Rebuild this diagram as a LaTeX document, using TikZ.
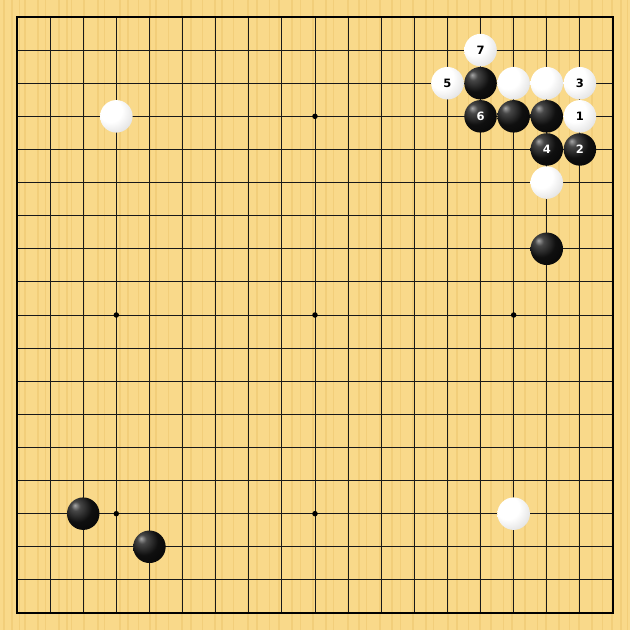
\documentclass[tikz,border=0pt]{standalone}
\usepackage{fontspec}
\setsansfont{DejaVu Sans}
\definecolor{boardcol}{RGB}{249,217,138}
\definecolor{stripecol}{RGB}{238,200,112}
\pgfdeclareradialshading{blackstone}{\pgfpoint{-13bp}{13bp}}{color(0bp)=(black!35); color(7bp)=(black!72); color(22bp)=(black!94); color(50bp)=(black); color(70bp)=(black!75)}
\pgfdeclareradialshading{whitestone}{\pgfpoint{-12bp}{12bp}}{color(0bp)=(white); color(18bp)=(white); color(36bp)=(black!12); color(52bp)=(black!35); color(75bp)=(black!55)}
\tikzset{
  gridline/.style={line width=0.9pt, black!90},
  border/.style={line width=2pt, black},
  starpt/.style={circle, fill=black, inner sep=0pt, minimum size=5.5pt},
  stonebase/.style={circle, inner sep=0pt, minimum size=32.5pt, font=\sffamily\bfseries\fontsize{11.5}{11.5}\selectfont},
  bstone/.style={stonebase, shade, shading=blackstone, text=white},
  wstone/.style={stonebase, shade, shading=whitestone, text=black}
}
\newcommand{\gx}[1]{17+#1*33.111}
\begin{document}
\begin{tikzpicture}[x=1pt,y=-1pt]
\useasboundingbox (0,0) rectangle (630,630);
\fill[boardcol] (0,0) rectangle (630,630);
% wood stripes
\foreach \s [count=\i] in {3,11,19,24,37,45,58,66,71,83,97,104,119,127,138,149,155,168,181,190,202,214,221,233,247,256,269,278,291,300,312,325,333,347,358,366,379,391,400,412,425,433,447,456,468,479,490,503,511,524,537,545,558,569,578,591,602,611,620,627}{
  \fill[stripecol, opacity=0.6] (\s,0) rectangle ({\s+1.2+mod(\i,3)*0.6},630);
}
% grid
\foreach \k in {1,...,17}{
  \draw[gridline] ({\gx{\k}},17) -- ({\gx{\k}},613);
  \draw[gridline] (17,{\gx{\k}}) -- (613,{\gx{\k}});
}
\draw[border] (17,17) rectangle (613,613);
% star points
\foreach \a in {3,9,15}{
  \foreach \b in {3,9,15}{
    \node[starpt] (s\a\b) at ({\gx{\a}},{\gx{\b}}) {};
  }
}
% stones
\node[wstone] (w1) at ({\gx{3}},{\gx{3}}) {};
\node[wstone] (m7) at ({\gx{14}},{\gx{1}}) {7};
\node[wstone] (m5) at ({\gx{13}},{\gx{2}}) {5};
\node[bstone] (b1) at ({\gx{14}},{\gx{2}}) {};
\node[wstone] (w2) at ({\gx{15}},{\gx{2}}) {};
\node[wstone] (w3) at ({\gx{16}},{\gx{2}}) {};
\node[wstone] (m3) at ({\gx{17}},{\gx{2}}) {3};
\node[bstone] (m6) at ({\gx{14}},{\gx{3}}) {6};
\node[bstone] (b2) at ({\gx{15}},{\gx{3}}) {};
\node[bstone] (b3) at ({\gx{16}},{\gx{3}}) {};
\node[wstone] (m1) at ({\gx{17}},{\gx{3}}) {1};
\node[bstone] (m4) at ({\gx{16}},{\gx{4}}) {4};
\node[bstone] (m2) at ({\gx{17}},{\gx{4}}) {2};
\node[wstone] (w4) at ({\gx{16}},{\gx{5}}) {};
\node[bstone] (b4) at ({\gx{16}},{\gx{7}}) {};
\node[bstone] (b5) at ({\gx{2}},{\gx{15}}) {};
\node[bstone] (b6) at ({\gx{4}},{\gx{16}}) {};
\node[wstone] (w5) at ({\gx{15}},{\gx{15}}) {};
\end{tikzpicture}
\end{document}
